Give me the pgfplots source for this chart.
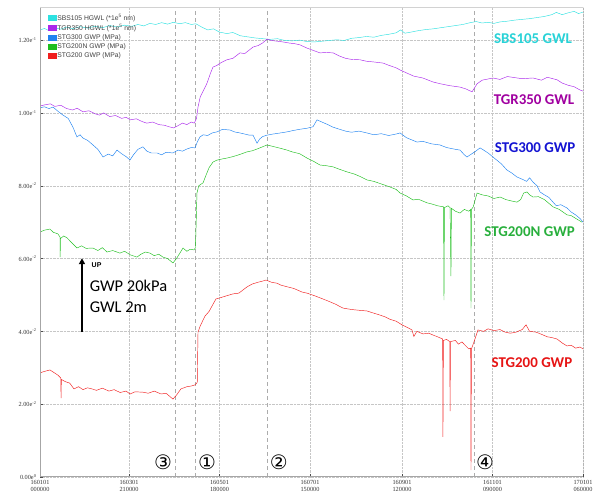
\documentclass[border=0pt]{standalone}
\usepackage{pgfplots}
\pgfplotsset{compat=1.18}
\usepackage{fontspec}
\setmainfont{Liberation Serif}
\newfontfamily\lblfont{Carlito}
\newfontfamily\circfont{DejaVu Sans}
\newfontfamily\legfont{Liberation Sans}
\usetikzlibrary{arrows.meta}
\definecolor{cCyan}{RGB}{45,225,225}
\definecolor{cPurple}{RGB}{170,40,235}
\definecolor{cBlue}{RGB}{30,130,240}
\definecolor{cGreen}{RGB}{30,190,30}
\definecolor{cRed}{RGB}{240,30,30}
\definecolor{lCyan}{RGB}{40,210,215}
\definecolor{lPurple}{RGB}{160,0,160}
\definecolor{lBlue}{RGB}{20,20,210}
\definecolor{lGreen}{RGB}{40,175,60}
\definecolor{lRed}{RGB}{230,20,20}
\begin{document}
\begin{tikzpicture}
\path[use as bounding box] (-40bp,-25bp) rectangle (555bp,477bp);
\begin{axis}[
  scale only axis, width=543bp, height=470bp,
  xmin=0, xmax=366, ymin=0, ymax=0.1291,
  axis line style={draw=none},
  tick pos=left,
  xtick={0,60,121,182,244,305,366},
  xticklabels={{160101\\000000},{160301\\210000},{160501\\180000},{160701\\150000},{160901\\120000},{161101\\090000},{170101\\060000}},
  xticklabel style={align=center, font=\fontsize{6.3}{7}\selectfont, text=black!80},
  minor x tick num=5,
  ytick={0,0.02,0.04,0.06,0.08,0.1,0.12},
  yticklabels={{0.00e\textsuperscript{0}},{2.00e\textsuperscript{-2}},{4.00e\textsuperscript{-2}},{6.00e\textsuperscript{-2}},{8.00e\textsuperscript{-2}},{1.00e\textsuperscript{-1}},{1.20e\textsuperscript{-1}}},
  yticklabel style={font=\fontsize{6.3}{7}\selectfont, text=black!80},
  scaled y ticks=false,
  grid=major,
  major grid style={densely dotted, gray!45, line width=0.5pt},
  tick align=inside,
  major tick length=3bp, minor tick length=2bp,
  tick style={gray!60!black, line width=0.4pt},
  extra x ticks={91,104.5,153.5,293},
  extra x tick labels={},
  extra x tick style={grid=major, major grid style={gray!65, line width=0.6pt, dash pattern=on 4bp off 3bp}, major tick length=0pt},
  legend style={at={(0.008,0.993)}, anchor=north west, draw=none, fill=none,
    font=\legfont\fontsize{6.8}{7.2}\selectfont, text=black!75, row sep=0pt,
    nodes={inner sep=1.3pt}},
  legend cell align=left,
  legend image code/.code={\fill[#1] (0bp,-2.5bp) rectangle (8bp,2.5bp);},
  every axis plot/.append style={line width=0.45pt},
]
\addplot[cCyan] coordinates {(0,0.1228)(3,0.1232)(6,0.1226)(10,0.1234)(14,0.1230)(18,0.1236)(22,0.1231)(27,0.1237)(32,0.1233)(37,0.1238)(42,0.1234)(47,0.1240)(52,0.1236)(57,0.1241)(62,0.1238)(66,0.1243)(70,0.1239)(74,0.1246)(78,0.1243)(82,0.1248)(86,0.1244)(90,0.1249)(94,0.1245)(98,0.1248)(102,0.1243)(105,0.1245)(109,0.1236)(113,0.1228)(117,0.1231)(121,0.1222)(126,0.1218)(130,0.1221)(135,0.1212)(140,0.1209)(145,0.1206)(150,0.1204)(155,0.1202)(160,0.1204)(165,0.1199)(170,0.1198)(175,0.1200)(180,0.1196)(185,0.1195)(190,0.1197)(195,0.1199)(200,0.1201)(205,0.1199)(210,0.1205)(215,0.1207)(220,0.1210)(225,0.1208)(230,0.1213)(235,0.1216)(240,0.1220)(243,0.1228)(246,0.1219)(250,0.1222)(255,0.1226)(260,0.1229)(265,0.1231)(270,0.1234)(275,0.1237)(280,0.1240)(285,0.1243)(290,0.1248)(294,0.1251)(298,0.1247)(302,0.1249)(306,0.1246)(310,0.1250)(315,0.1252)(320,0.1255)(325,0.1257)(330,0.1259)(335,0.1262)(340,0.1265)(345,0.1270)(348,0.1276)(352,0.1270)(356,0.1275)(360,0.1279)(363,0.1273)(366,0.1277)};
\addlegendentry{SBS105 HGWL (*1e\textsuperscript{5} nm)}
\addplot[cPurple] coordinates {(0,0.1019)(3,0.1022)(7,0.1025)(10,0.1018)(14,0.1021)(18,0.1012)(22,0.1008)(25,0.1013)(29,0.1003)(33,0.1006)(37,0.0998)(40,0.0994)(43,0.1000)(47,0.0990)(51,0.0993)(55,0.0985)(58,0.0988)(61,0.0981)(65,0.0984)(69,0.0976)(72,0.0972)(76,0.0975)(80,0.0968)(84,0.0966)(87,0.0962)(90,0.0959)(93,0.0965)(96,0.0972)(99,0.0968)(102,0.0975)(104,0.0972)(105.5,0.0985)(106.5,0.1016)(108,0.1044)(110,0.1060)(112.6,0.1082)(115,0.1110)(116.6,0.1126)(119,0.1130)(122,0.1138)(126,0.1146)(130,0.1150)(134.8,0.1165)(138,0.1163)(143.6,0.1181)(147,0.1185)(150,0.1192)(153,0.1203)(156,0.1199)(160,0.1197)(163.8,0.1195)(168,0.1192)(172,0.1190)(175.2,0.1187)(180,0.1178)(184,0.1172)(188.7,0.1165)(193,0.1166)(197.5,0.1165)(202,0.1156)(206,0.1150)(210,0.1147)(215.7,0.1146)(220,0.1142)(225,0.1140)(231.2,0.1137)(235,0.1131)(240,0.1124)(242.7,0.1118)(247,0.1110)(252,0.1101)(258,0.1096)(264.9,0.1085)(270,0.1080)(276,0.1075)(283.1,0.1071)(287,0.1066)(291.2,0.1058)(294.6,0.1080)(298,0.1090)(305.3,0.1096)(310,0.1092)(315,0.1100)(320,0.1097)(325,0.1094)(332.3,0.1096)(338,0.1090)(342,0.1098)(348.5,0.1091)(352,0.1082)(356,0.1076)(360,0.1072)(364,0.1063)(366,0.1060)};
\addlegendentry{TGR350 HGWL (*1e\textsuperscript{5} nm)}
\addplot[cBlue] coordinates {(0,0.1014)(3,0.1017)(6,0.1012)(8.8,0.1016)(12,0.1005)(15.5,0.0994)(19,0.0985)(22.2,0.0961)(24.9,0.0934)(27,0.0940)(29,0.0931)(32,0.0925)(35.7,0.0912)(39,0.0900)(42.5,0.0879)(46,0.0887)(49,0.0882)(51.9,0.0898)(55,0.0888)(58,0.0880)(60.7,0.0871)(63,0.0885)(66,0.0900)(69.4,0.0907)(72,0.0895)(75,0.0890)(78.9,0.0890)(82,0.0885)(85,0.0892)(89.6,0.0890)(93,0.0898)(96,0.0895)(99.1,0.0901)(102,0.0905)(104.5,0.0904)(106,0.0920)(107.8,0.0934)(110,0.0940)(113,0.0938)(116,0.0945)(119.3,0.0948)(123,0.0955)(128.1,0.0953)(131,0.0948)(134.8,0.0945)(138,0.0942)(141,0.0939)(143.6,0.0939)(146.3,0.0917)(148,0.0928)(150,0.0935)(153,0.0939)(157,0.0942)(162,0.0945)(166.5,0.0948)(171,0.0952)(175,0.0955)(180,0.0958)(184,0.0962)(186.7,0.0981)(190,0.0975)(194,0.0968)(197.5,0.0961)(202,0.0955)(206,0.0950)(210,0.0947)(215,0.0950)(220.4,0.0945)(225,0.0940)(230,0.0943)(235,0.0938)(240,0.0942)(242.7,0.0945)(247,0.0932)(254.1,0.0920)(258,0.0922)(264,0.0915)(269.6,0.0912)(274,0.0905)(280,0.0900)(283.1,0.0898)(286,0.0885)(287.8,0.0879)(290,0.0885)(293,0.0893)(296.6,0.0904)(299,0.0898)(302,0.0890)(305.3,0.0879)(308,0.0870)(311,0.0860)(314.8,0.0843)(318,0.0835)(321.5,0.0824)(325,0.0818)(328,0.0812)(330,0.0822)(332.3,0.0810)(335,0.0800)(337,0.0783)(340,0.0775)(343,0.0768)(345.8,0.0755)(348,0.0745)(351,0.0748)(355.2,0.0739)(358,0.0728)(361,0.0720)(364,0.0710)(366,0.0700)};
\addlegendentry{STG300 GWP (MPa)}
\addplot[cGreen] coordinates {(0,0.0673)(3,0.0678)(6.7,0.0681)(9,0.0672)(12,0.0668)(13.5,0.0659)(13.6,0.0604)(13.8,0.0655)(16,0.0662)(18.2,0.0657)(21,0.0645)(24.9,0.0629)(28,0.0635)(31,0.0628)(35.7,0.0629)(39,0.0622)(42,0.0630)(45.2,0.0618)(49,0.0622)(53.9,0.0615)(57,0.0620)(61,0.0610)(65.4,0.0604)(68,0.0612)(71,0.0618)(74.1,0.0615)(77,0.0608)(80,0.0612)(82.9,0.0604)(86,0.0600)(89.6,0.0588)(92,0.0600)(96.4,0.0629)(99,0.0620)(101,0.0625)(103.8,0.0624)(104.8,0.0630)(105.8,0.0780)(107,0.0800)(109.9,0.0808)(112,0.0830)(114,0.0850)(116.6,0.0865)(119,0.0870)(122,0.0873)(126,0.0876)(130,0.0880)(134,0.0885)(139.5,0.0893)(143,0.0896)(147,0.0902)(150,0.0907)(153,0.0912)(157,0.0908)(161,0.0904)(166.5,0.0898)(170,0.0893)(175,0.0888)(180,0.0876)(184,0.0868)(188.7,0.0857)(193,0.0855)(197.5,0.0852)(202,0.0845)(207,0.0838)(212,0.0832)(216,0.0825)(220.4,0.0816)(225,0.0812)(230,0.0805)(235,0.0798)(240,0.0790)(242.7,0.0780)(247,0.0772)(251.4,0.0761)(255,0.0763)(258,0.0758)(260.9,0.0753)(264,0.0750)(268,0.0745)(272,0.0742)(272.3,0.0486)(272.6,0.0740)(275,0.0745)(276.4,0.0740)(277,0.0552)(277.3,0.0738)(280,0.0730)(283.1,0.0725)(286,0.0735)(289,0.0730)(290.3,0.0735)(290.5,0.0464)(290.8,0.0735)(292,0.0742)(294.6,0.0780)(298,0.0775)(302,0.0772)(306,0.0765)(310.1,0.0769)(314,0.0762)(318,0.0758)(321.5,0.0755)(324,0.0762)(326,0.0780)(328.3,0.0783)(330,0.0775)(332.3,0.0769)(336,0.0770)(340,0.0762)(345.8,0.0742)(350,0.0735)(355.2,0.0720)(358,0.0718)(362,0.0708)(365.3,0.0700)};
\addlegendentry{STG200N GWP (MPa)}
\addplot[cRed] coordinates {(0,0.0286)(3,0.0290)(6.7,0.0294)(9,0.0288)(12,0.0280)(14,0.0272)(14.2,0.0217)(14.4,0.0268)(17,0.0262)(20,0.0258)(22.9,0.0242)(26,0.0248)(29,0.0240)(32,0.0245)(35,0.0242)(38,0.0238)(42,0.0244)(46.5,0.0236)(50,0.0240)(54,0.0232)(58,0.0236)(60.7,0.0228)(64,0.0234)(69.4,0.0233)(73,0.0230)(77,0.0236)(81.6,0.0228)(85,0.0230)(89.6,0.0214)(92,0.0225)(95,0.0242)(99,0.0248)(102,0.0250)(104.5,0.0253)(106,0.0260)(106.5,0.0398)(108,0.0415)(111.2,0.0442)(114,0.0455)(116,0.0470)(118.6,0.0489)(122,0.0493)(126,0.0498)(130.1,0.0503)(134,0.0505)(139.5,0.0522)(143,0.0530)(147,0.0535)(150,0.0538)(152.3,0.0541)(156,0.0535)(160,0.0532)(162.4,0.0527)(167,0.0522)(171,0.0518)(176.6,0.0508)(180,0.0505)(185,0.0498)(190.7,0.0489)(195,0.0482)(199,0.0475)(204.2,0.0464)(210,0.0460)(215,0.0458)(220.4,0.0456)(225,0.0450)(229,0.0445)(232.5,0.0440)(236,0.0433)(240,0.0428)(244,0.0418)(248,0.0410)(250.7,0.0404)(252,0.0386)(254,0.0400)(258.2,0.0393)(262,0.0395)(264.9,0.0390)(268,0.0385)(271.4,0.0379)(271.6,0.0110)(271.9,0.0375)(274,0.0378)(276.2,0.0372)(276.4,0.0181)(276.7,0.0372)(280,0.0375)(282,0.0365)(284.4,0.0371)(287,0.0360)(289,0.0352)(290.3,0.0354)(290.5,0.0019)(290.8,0.0352)(292,0.0365)(295.2,0.0404)(299,0.0400)(302,0.0407)(306,0.0402)(310,0.0405)(313.4,0.0398)(317,0.0395)(321,0.0398)(325,0.0405)(327.6,0.0418)(330,0.0400)(334.3,0.0398)(338,0.0392)(342,0.0385)(345,0.0383)(348.5,0.0379)(352,0.0368)(355.2,0.0360)(358,0.0362)(361,0.0354)(364,0.0357)(366,0.0352)};
\addlegendentry{STG200 GWP (MPa)}
% frame
\draw[gray!70, line width=1.4pt] (rel axis cs:0,1) -- (rel axis cs:0,0) -- (rel axis cs:1,0);
\draw[black!75, line width=0.7pt] (rel axis cs:1,0) -- (rel axis cs:1,1);
\draw[gray!35, line width=0.5pt] (rel axis cs:0,1) -- (rel axis cs:1,1);
% series labels
\node[text=lCyan, font=\lblfont\bfseries\fontsize{15}{15}\selectfont] at (axis cs:332.3,0.1203) {SBS105 GWL};
\node[text=lPurple, font=\lblfont\bfseries\fontsize{15}{15}\selectfont] at (axis cs:333,0.1036) {TGR350 GWL};
\node[text=lBlue, font=\lblfont\bfseries\fontsize{15}{15}\selectfont] at (axis cs:333.7,0.0904) {STG300 GWP};
\node[text=lGreen, font=\lblfont\bfseries\fontsize{15}{15}\selectfont] at (axis cs:330,0.0673) {STG200N GWP};
\node[text=lRed, font=\lblfont\bfseries\fontsize{15}{15}\selectfont] at (axis cs:331.6,0.0313) {STG200 GWP};
% circled event numbers
\node[font=\circfont\fontsize{20}{20}\selectfont] at (axis cs:82.9,0.0040) {③};
\node[font=\circfont\fontsize{20}{20}\selectfont] at (axis cs:112.6,0.0040) {①};
\node[font=\circfont\fontsize{20}{20}\selectfont] at (axis cs:161,0.0040) {②};
\node[font=\circfont\fontsize{20}{20}\selectfont] at (axis cs:300,0.0040) {④};
% scale annotation
\draw[-{Triangle[length=6bp,width=6bp]}, line width=2.2bp] (axis cs:28.3,0.0398) -- (axis cs:28.3,0.0601);
\node[font=\legfont\bfseries\fontsize{7}{7}\selectfont, anchor=west] at (axis cs:32.5,0.0582) {UP};
\node[font=\lblfont\fontsize{16.5}{16.5}\selectfont, anchor=west] at (axis cs:31.2,0.0525) {GWP 20kPa};
\node[font=\lblfont\fontsize{16.5}{16.5}\selectfont, anchor=west] at (axis cs:31.2,0.0465) {GWL 2m};
\end{axis}
\end{tikzpicture}
\end{document}
